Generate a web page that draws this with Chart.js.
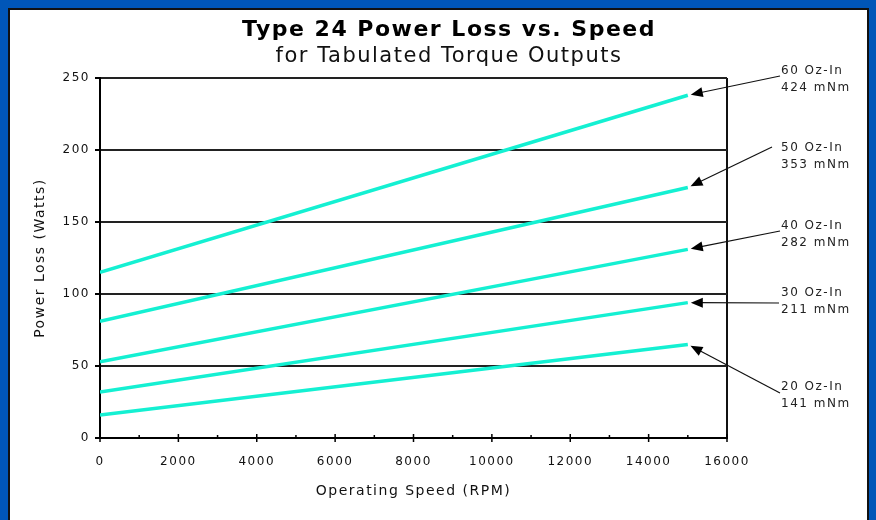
<!DOCTYPE html>
<html>
<head>
<meta charset="utf-8">
<title>Type 24 Power Loss vs. Speed</title>
<script src="https://cdn.jsdelivr.net/npm/chart.js@4.4.1/dist/chart.umd.min.js"></script>
<style>
  html, body { margin: 0; padding: 0; width: 876px; height: 520px; overflow: hidden; background: #0056b8; }
  #panel { position: absolute; left: 8px; top: 8px; width: 857px; height: 530px; background: #fff; border: 2px solid #111; }
  #chart { position: absolute; left: 20px; top: 0; }
</style>
</head>
<body>
<div id="panel"></div>
<canvas id="chart" width="858" height="520"></canvas>
<script>
// power loss (watts), at 0 and 15000 rpm
const speeds = [0, 15000];
const loss20 = [16, 65];
const loss30 = [32, 94];
const loss40 = [53, 131];
const loss50 = [81, 174];
const loss60 = [115, 238];

const ozLabels = ['20 Oz-In', '30 Oz-In', '40 Oz-In', '50 Oz-In', '60 Oz-In'];
const nmLabels = ['141 mNm', '211 mNm', '282 mNm', '353 mNm', '424 mNm'];

const xTickValues = [0, 2000, 4000, 6000, 8000, 10000, 12000, 14000, 16000];
const xTickLabels = ['0', '2000', '4000', '6000', '8000', '10000', '12000', '14000', '16000'];
const xMinorTicks = [1000, 3000, 5000, 7000, 9000, 11000, 13000, 15000];
const yTickValues = [0, 50, 100, 150, 200, 250];

const lineColor = '#14f0d2';

function points(values) {
    return speeds.map((s, i) => ({ x: s, y: values[i] }));
}

// extra ticks on the x axis and the arrow callouts on the right
const extras = {
    id: 'extras',
    beforeDraw(chart) {
        chart.ctx.letterSpacing = '1.5px';
    },
    afterDraw(chart, args, opts) {
        const { ctx, scales: { x, y } } = chart;
        const base = y.getPixelForValue(0);
        ctx.save();
        ctx.strokeStyle = '#000';
        ctx.lineWidth = 1.5;
        ctx.beginPath();
        xTickValues.forEach(v => {
            const px = x.getPixelForValue(v);
            ctx.moveTo(px, base - 4);
            ctx.lineTo(px, base + 4);
        });
        xMinorTicks.forEach(v => {
            const px = x.getPixelForValue(v);
            ctx.moveTo(px, base - 3);
            ctx.lineTo(px, base);
        });
        ctx.stroke();

        ctx.font = '12px "DejaVu Sans"';
        ctx.textAlign = 'left';
        ctx.textBaseline = 'middle';
        chart.data.datasets.forEach((ds, i) => {
            const c = opts.callouts[i];
            const last = ds.data[ds.data.length - 1];
            const ex = x.getPixelForValue(last.x);
            const ey = y.getPixelForValue(last.y);
            const dx = c.sx - ex, dy = c.sy - ey;
            const len = Math.hypot(dx, dy);
            const ux = dx / len, uy = dy / len;
            const tx = ex + ux * 3, ty = ey + uy * 3;
            // shaft
            ctx.strokeStyle = '#111';
            ctx.lineWidth = 1.2;
            ctx.beginPath();
            ctx.moveTo(c.sx, c.sy);
            ctx.lineTo(tx + ux * 8, ty + uy * 8);
            ctx.stroke();
            // head
            ctx.fillStyle = '#000';
            ctx.beginPath();
            ctx.moveTo(tx, ty);
            ctx.lineTo(tx + ux * 12 - uy * 5, ty + uy * 12 + ux * 5);
            ctx.lineTo(tx + ux * 12 + uy * 5, ty + uy * 12 - ux * 5);
            ctx.closePath();
            ctx.fill();
            // text
            ctx.fillStyle = '#222';
            ctx.fillText(ozLabels[i], c.lx, c.ly);
            ctx.fillText(nmLabels[i], c.lx, c.ly + 17);
        });
        ctx.restore();
    }
};

const datasetStyle = {
    borderColor: lineColor,
    backgroundColor: lineColor,
    borderWidth: 3.5,
    pointRadius: 0,
    fill: false
};

new Chart(document.getElementById('chart'), {
    type: 'line',
    data: {
        datasets: [
            { label: ozLabels[0], data: points(loss20), ...datasetStyle },
            { label: ozLabels[1], data: points(loss30), ...datasetStyle },
            { label: ozLabels[2], data: points(loss40), ...datasetStyle },
            { label: ozLabels[3], data: points(loss50), ...datasetStyle },
            { label: ozLabels[4], data: points(loss60), ...datasetStyle }
        ]
    },
    plugins: [extras],
    options: {
        responsive: false,
        animation: false,
        layout: { padding: { left: 12, right: 12, top: 0, bottom: 20 } },
        plugins: {
            legend: { display: false },
            tooltip: { enabled: false },
            title: {
                display: true,
                text: 'Type 24 Power Loss vs. Speed',
                color: '#000',
                font: { family: 'DejaVu Sans', size: 22, weight: 'bold' },
                padding: { top: 17, bottom: 0 }
            },
            subtitle: {
                display: true,
                text: 'for Tabulated Torque Outputs',
                color: '#111',
                font: { family: 'DejaVu Sans', size: 21 },
                padding: { top: 1, bottom: 8.4 }
            },
            extras: {
                callouts: [
                    { lx: 761, ly: 387, sx: 760, sy: 393 },
                    { lx: 761, ly: 293, sx: 759, sy: 303 },
                    { lx: 761, ly: 226, sx: 760, sy: 231 },
                    { lx: 761, ly: 148, sx: 752, sy: 147 },
                    { lx: 761, ly: 71, sx: 760, sy: 76 }
                ]
            }
        },
        scales: {
            x: {
                type: 'linear',
                min: 0,
                max: 16000,
                afterFit(scale) { scale.height = 62; },
                afterBuildTicks(scale) { scale.ticks = xTickValues.map(v => ({ value: v })); },
                grid: {
                    drawTicks: false,
                    lineWidth: 2,
                    color: ctx => (ctx.tick && ctx.tick.value === 16000 ? '#111' : 'rgba(0,0,0,0)')
                },
                border: { display: true, color: '#000', width: 2 },
                ticks: {
                    padding: 17,
                    color: '#111',
                    maxRotation: 0,
                    font: { family: 'DejaVu Sans', size: 12 },
                    callback: (value, index) => xTickLabels[index]
                },
                title: {
                    display: true,
                    text: 'Operating Speed (RPM)',
                    color: '#111',
                    font: { family: 'DejaVu Sans', size: 14 },
                    padding: { top: 0, bottom: 0 }
                }
            },
            y: {
                min: 0,
                max: 250,
                afterFit(scale) { scale.width = 68; },
                afterBuildTicks(scale) { scale.ticks = yTickValues.map(v => ({ value: v })); },
                grid: { color: '#222', lineWidth: 2, tickLength: 5, tickColor: '#000' },
                border: { display: true, color: '#000', width: 2 },
                ticks: {
                    padding: 5,
                    color: '#111',
                    font: { family: 'DejaVu Sans', size: 12 }
                },
                title: {
                    display: true,
                    text: 'Power Loss (Watts)',
                    color: '#111',
                    font: { family: 'DejaVu Sans', size: 14 },
                    padding: { top: 0, bottom: 0 }
                }
            },
            // empty strip on the right that holds the callout labels
            side: {
                position: 'right',
                afterFit(scale) { scale.width = 139; },
                grid: { display: false },
                border: { display: false },
                ticks: { display: false }
            }
        }
    }
});
</script>
</body>
</html>
